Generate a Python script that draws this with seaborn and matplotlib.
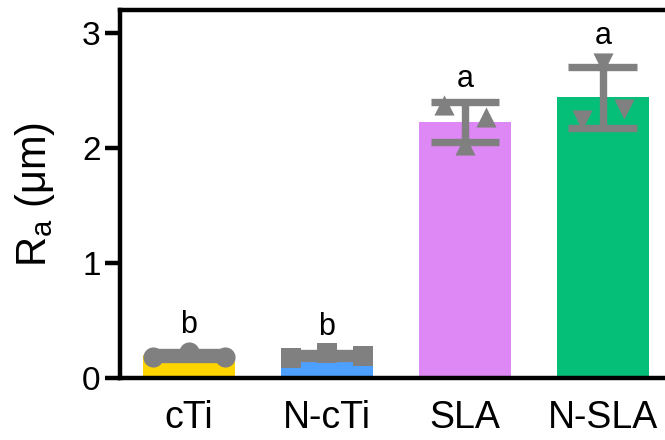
import numpy as np
import matplotlib
matplotlib.use('Agg')
import matplotlib.pyplot as plt
import pandas as pd
import seaborn as sns


# groups and bar colours
groups = ['cTi', 'N-cTi', 'SLA', 'N-SLA']
bar_colors = ['#FFD500', '#4DA0FF', '#DD88F5', '#05BF78']
markers = ['o', 's', '^', 'v']

# individual Ra measurements (um), three per group, read left to right
cTi_vals = [0.18, 0.23, 0.18]
NcTi_vals = [0.175, 0.215, 0.19]
SLA_vals = [2.37, 2.03, 2.27]
NSLA_vals = [2.24, 2.74, 2.34]

# significance letters
letters = ['b', 'b', 'a', 'a']

# y axis
y_ticks = [0, 1, 2, 3]


all_vals = [cTi_vals, NcTi_vals, SLA_vals, NSLA_vals]

# long form table for seaborn
rows = []
for g, vals in zip(groups, all_vals):
    for v in vals:
        rows.append({'group': g, 'Ra': v})
df = pd.DataFrame(rows)


sns.set_style('ticks')
plt.rcParams['font.family'] = ['Liberation Sans', 'DejaVu Sans']
plt.rcParams['mathtext.fontset'] = 'custom'
plt.rcParams['mathtext.rm'] = 'Liberation Sans'
plt.rcParams['mathtext.it'] = 'Liberation Sans'
plt.rcParams['text.color'] = 'black'
plt.rcParams['axes.labelcolor'] = 'black'
plt.rcParams['xtick.color'] = 'black'
plt.rcParams['ytick.color'] = 'black'

fig = plt.figure(figsize=(6.65, 4.4), dpi=100)
ax = fig.add_axes([0.1805, 0.1409, 0.830, 0.8364])

# bars = group means, error bars = SD
sns.barplot(data=df, x='group', y='Ra', hue='group', order=groups, hue_order=groups,
            palette=bar_colors, legend=False, width=0.66, errorbar='sd',
            capsize=0.5, err_kws={'color': '#808080', 'linewidth': 5.3,
                                  'solid_capstyle': 'butt'},
            saturation=1, linewidth=0, ax=ax)

# scatter the individual points over each bar (spread sideways, prism style)
spread = [0.26, 0.26, 0.15, 0.15]
side = [-1, 0, 1]
for i, (vals, m) in enumerate(zip(all_vals, markers)):
    xs = [i + s * spread[i] for s in side]
    ax.scatter(xs, vals, marker=m, s=210, color='#808080', linewidths=0, zorder=4)

# letters above each group
for i, vals in enumerate(all_vals):
    ax.text(i, max(vals) + 0.16, letters[i], ha='center', va='baseline',
            fontsize=22, color='black')

ax.set_xlim(-0.5, 3.5)
ax.set_ylim(0, 3.2)
ax.set_yticks(y_ticks)
ax.set_xlabel('')
ax.set_ylabel(r'$\mathregular{R_a}$ (μm)', fontsize=30, labelpad=18)

for side_name in ['left', 'bottom', 'top', 'right']:
    ax.spines[side_name].set_linewidth(3.2)
    ax.spines[side_name].set_color('black')

ax.tick_params(axis='y', length=11, width=3.2, pad=3, labelsize=24, labelcolor='black')
ax.tick_params(axis='x', length=0, pad=16, labelsize=27, labelcolor='black')

fig.savefig('out.png', dpi=100)
